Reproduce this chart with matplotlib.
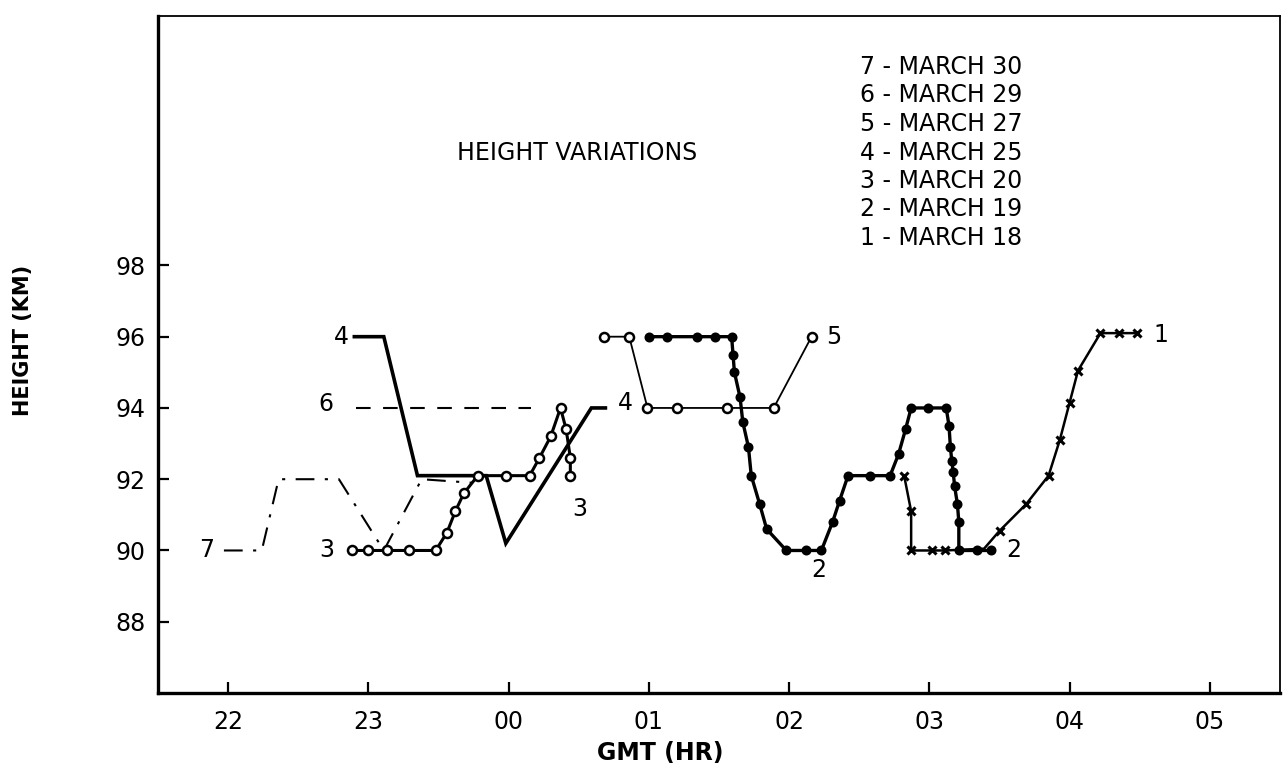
import matplotlib
matplotlib.use("Agg")
import matplotlib.pyplot as plt

FONT = ['Liberation Sans Narrow', 'DejaVu Sans']
plt.rcParams['font.family'] = FONT

# ---- data (hours after 00 GMT of first day; values >24 are next day) ----
s7_x = [21.97, 22.24, 22.36, 22.79, 23.11, 23.38, 23.74]
s7_y = [90, 90, 92, 92, 90, 92, 91.9]

s6_x = [22.91, 24.16]
s6_y = [94, 94]

s4_x = [22.90, 23.11, 23.35, 23.84, 23.98, 24.59, 24.69]
s4_y = [96, 96, 92.1, 92.1, 90.2, 94, 94]

s3_x = [22.88, 23.00, 23.13, 23.29, 23.48, 23.56, 23.62, 23.68, 23.78, 23.98,
        24.15, 24.22, 24.30, 24.37, 24.41, 24.44, 24.44]
s3_y = [90, 90, 90, 90, 90, 90.5, 91.1, 91.6, 92.1, 92.1,
        92.1, 92.6, 93.2, 94, 93.4, 92.6, 92.1]

s5_x = [24.68, 24.86, 24.99, 25.20, 25.56, 25.89, 26.16]
s5_y = [96, 96, 94, 94, 94, 94, 96]

s2_x = [25.00, 25.13, 25.34, 25.47, 25.59, 25.60, 25.61, 25.65, 25.67, 25.71,
        25.73, 25.79, 25.84, 25.98, 26.12, 26.23, 26.31, 26.36, 26.42, 26.58,
        26.72, 26.78, 26.83, 26.87, 26.99, 27.12, 27.14, 27.15, 27.16, 27.17,
        27.18, 27.20, 27.21, 27.21, 27.34, 27.44]
s2_y = [96, 96, 96, 96, 96, 95.5, 95.0, 94.3, 93.6, 92.9,
        92.1, 91.3, 90.6, 90, 90, 90, 90.8, 91.4, 92.1, 92.1,
        92.1, 92.7, 93.4, 94, 94, 94, 93.5, 92.9, 92.5, 92.2,
        91.8, 91.3, 90.8, 90, 90, 90]

s1_x = [26.82, 26.87, 26.87, 27.02, 27.11, 27.39, 27.50, 27.69, 27.85, 27.93,
        28.00, 28.06, 28.22, 28.35, 28.48]
s1_y = [92.1, 91.1, 90, 90, 90, 90.05, 90.55, 91.3, 92.1, 93.1,
        94.15, 95.05, 96.1, 96.1, 96.1]
s1_marked = [0, 1, 2, 3, 4, 6, 7, 8, 9, 10, 11, 12, 13, 14]

x_ticks = [22, 23, 24, 25, 26, 27, 28, 29]
x_ticklabels = ['22', '23', '00', '01', '02', '03', '04', '05']
y_ticks = [88, 90, 92, 94, 96, 98]

legend_lines = ['7 - MARCH 30', '6 - MARCH 29', '5 - MARCH 27', '4 - MARCH 25',
                '3 - MARCH 20', '2 - MARCH 19', '1 - MARCH 18']

# curve labels: (text, x, y)
curve_labels = [('7', 21.85, 90.0), ('3', 22.70, 90.0), ('4', 22.81, 96.0),
                ('6', 22.70, 94.1), ('4', 24.83, 94.15), ('3', 24.51, 91.15),
                ('5', 26.32, 96.0), ('2', 26.21, 89.45), ('2', 27.60, 90.0),
                ('1', 28.65, 96.05)]

fig = plt.figure(figsize=(12.88, 7.82), dpi=100)
ax = fig.add_axes([158 / 1288, 1 - 693 / 782, (1280 - 158) / 1288, (693 - 16) / 782])

k = 'black'
ax.plot(s7_x, s7_y, color=k, lw=1.5, dashes=(9, 5, 1.5, 5))
ax.plot(s6_x, s6_y, color=k, lw=1.5, dashes=(7, 6))
ax.plot(s4_x, s4_y, color=k, lw=2.6, solid_joinstyle='miter')
ax.plot(s3_x, s3_y, color=k, lw=2.2, marker='o', ms=6.5, mfc='white', mec=k, mew=1.8)
ax.plot(s5_x, s5_y, color=k, lw=1.3, marker='o', ms=6.5, mfc='white', mec=k, mew=1.8)
ax.plot(s1_x, s1_y, color=k, lw=1.8, marker='x', ms=6, mew=2.2, markevery=s1_marked)
ax.plot(s2_x, s2_y, color=k, lw=2.4, marker='o', ms=6, mfc=k, mec=k, mew=1.2)

for t, x, y in curve_labels:
    ax.text(x, y, t, fontsize=17, ha='center', va='center')

ax.set_xlim(21.5, 29.5)
ax.set_ylim(86, 105)
ax.set_xticks(x_ticks)
ax.set_xticklabels(x_ticklabels)
ax.set_yticks(y_ticks)
ax.tick_params(axis='both', direction='in', length=8, width=1.6, labelsize=17)
ax.tick_params(axis='x', pad=12)
ax.tick_params(axis='y', pad=9)

ax.spines['left'].set_linewidth(2.4)
ax.spines['bottom'].set_linewidth(2.4)
ax.spines['top'].set_linewidth(1.3)
ax.spines['right'].set_linewidth(1.3)

for i, line in enumerate(legend_lines):
    fig.text(860 / 1288, 1 - (67 + i * 28.5) / 782, line, fontsize=17,
             ha='left', va='center')

fig.text(457 / 1288, 1 - 153 / 782, 'HEIGHT VARIATIONS', fontsize=17,
         ha='left', va='center')
fig.text(660 / 1288, 1 - 753 / 782, 'GMT (HR)', fontsize=17, ha='center',
         va='center', fontweight='bold')
fig.text(23 / 1288, 1 - 340 / 782, 'HEIGHT (KM)', fontsize=15, ha='center',
         va='center', rotation=90, fontweight='bold')

fig.savefig('out.png', dpi=100)
